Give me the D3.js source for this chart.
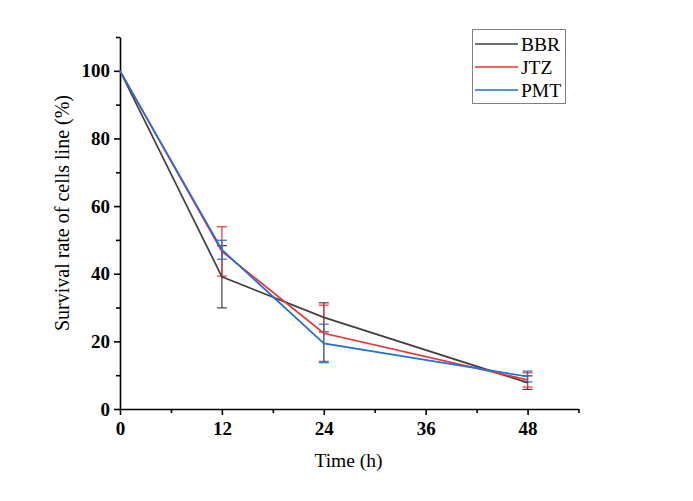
<!DOCTYPE html>
<html><head><meta charset="utf-8">
<script src="https://cdn.jsdelivr.net/npm/d3@7"></script>
<style>body{margin:0;background:#fff}</style>
</head><body><svg id="c" width="693" height="501"></svg>
<script>
const times = [0, 12, 24, 48];
const seriesNames = ["BBR", "JTZ", "PMT"];
const bbr = [100, 39.1, 27.1, 7.8];
const bbrErr = [0, 9.2, 4.3, 2.0];
const jtz = [100, 46.6, 22.4, 8.6];
const jtzErr = [0, 7.3, 8.3, 2.1];
const pmt = [100, 47.1, 19.4, 9.6];
const pmtErr = [0, 2.8, 5.7, 1.6];
const colors = ["#404040", "#f03333", "#1f6fe0"];
const xTicks = [0, 12, 24, 36, 48];
const yTicks = [0, 20, 40, 60, 80, 100];

const svg = d3.select("#c");
const x = d3.scaleLinear().domain([0, 54]).range([120, 578.5]);
const y = d3.scaleLinear().domain([0, 110]).range([409, 37]);
const serif = "'Liberation Serif','Times New Roman',serif";

// axes
const xAxis = svg.append("g").attr("transform", "translate(0,409)")
  .call(d3.axisBottom(x).tickValues(xTicks).tickSize(6).tickSizeOuter(0).tickPadding(7));
const xMinor = svg.append("g").attr("transform", "translate(0,409)")
  .call(d3.axisBottom(x).tickValues([6, 18, 30, 42, 54]).tickSize(4).tickSizeOuter(0).tickFormat(""));
const yAxis = svg.append("g").attr("transform", "translate(120,0)")
  .call(d3.axisLeft(y).tickValues(yTicks).tickSize(6).tickSizeOuter(0).tickPadding(4));
const yMinor = svg.append("g").attr("transform", "translate(120,0)")
  .call(d3.axisLeft(y).tickValues([10, 30, 50, 70, 90, 110]).tickSize(4).tickSizeOuter(0).tickFormat(""));
[xMinor, yMinor].forEach(g => g.select(".domain").remove());
[xAxis, yAxis, xMinor, yMinor].forEach(g => {
  g.selectAll("path,line").attr("stroke", "#000").attr("stroke-width", 1.6);
  g.selectAll("text").attr("font-family", serif).attr("font-size", 19).attr("font-weight", "bold").attr("fill", "#000");
});

// titles
svg.append("text").attr("x", 348.5).attr("y", 467).attr("text-anchor", "middle")
  .attr("font-family", serif).attr("font-size", 19.5).text("Time (h)");
svg.append("text").attr("transform", "translate(69,213) rotate(-90)").attr("text-anchor", "middle")
  .attr("font-family", serif).attr("font-size", 20).text("Survival rate of cells line (%)");

const data = [
  {name: seriesNames[0], vals: bbr, err: bbrErr, color: colors[0]},
  {name: seriesNames[1], vals: jtz, err: jtzErr, color: colors[1]},
  {name: seriesNames[2], vals: pmt, err: pmtErr, color: colors[2]}
];
const line = d3.line().x(d => x(d[0])).y(d => y(d[1]));

data.forEach(s => {
  const g = svg.append("g");
  times.forEach((t, i) => {
    if (!s.err[i]) return;
    const cx = x(t), lo = y(s.vals[i] - s.err[i]), hi = y(s.vals[i] + s.err[i]);
    g.append("line").attr("x1", cx).attr("x2", cx).attr("y1", lo).attr("y2", hi).attr("stroke", s.color).attr("stroke-width", 1.2);
    [lo, hi].forEach(yy => g.append("line").attr("x1", cx - 5).attr("x2", cx + 5).attr("y1", yy).attr("y2", yy).attr("stroke", s.color).attr("stroke-width", 1.2));
  });
});
data.forEach(s => {
  svg.append("path").datum(times.map((t, i) => [t, s.vals[i]]))
    .attr("d", line).attr("fill", "none").attr("stroke", s.color).attr("stroke-width", 1.7);
});

// legend
const lg = svg.append("g");
lg.append("rect").attr("x", 472.5).attr("y", 29.5).attr("width", 93).attr("height", 74)
  .attr("fill", "#fff").attr("stroke", "#808080").attr("stroke-width", 1);
data.forEach((s, i) => {
  const yy = 44 + i * 23;
  lg.append("line").attr("x1", 475).attr("x2", 518).attr("y1", yy).attr("y2", yy).attr("stroke", s.color).attr("stroke-width", 1.7);
  lg.append("text").attr("x", 521).attr("y", yy + 6.5).attr("font-family", serif).attr("font-size", 19.5).text(s.name);
});
</script></body></html>
